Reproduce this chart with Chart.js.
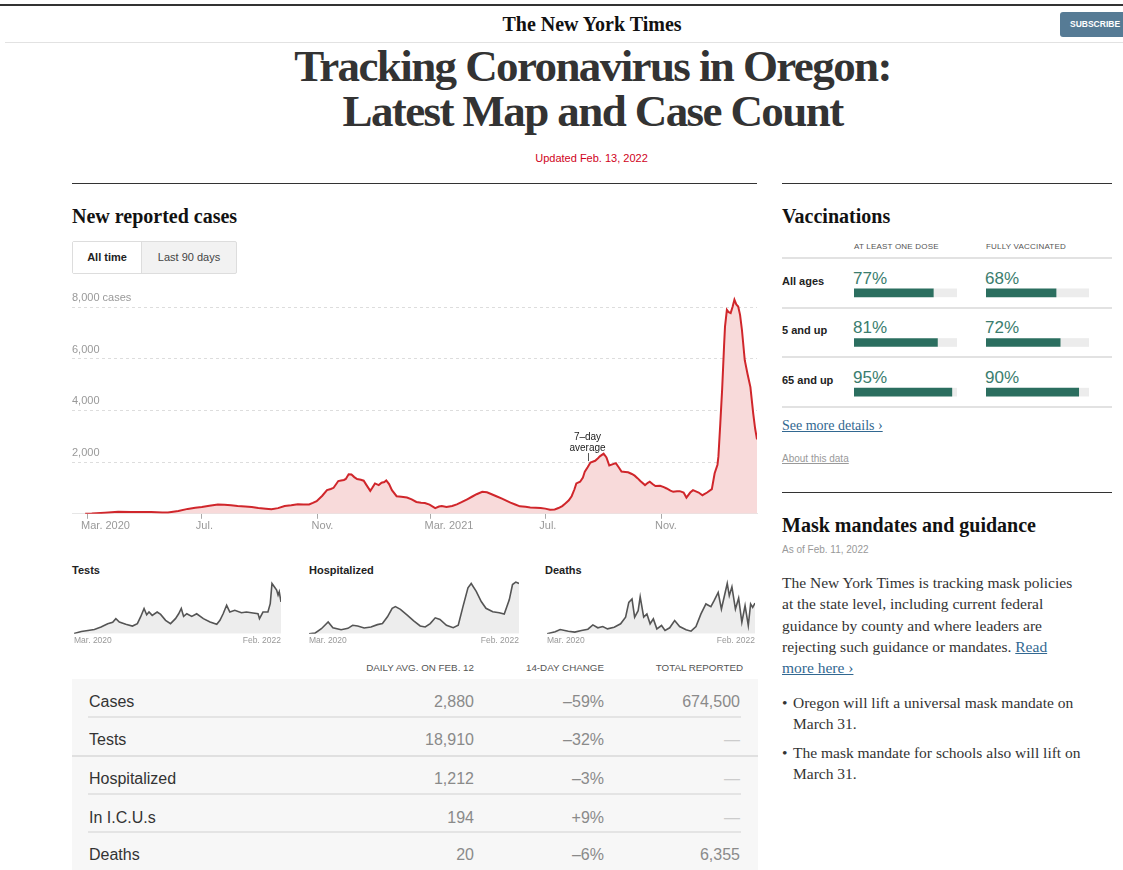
<!DOCTYPE html>
<html>
<head>
<meta charset="utf-8">
<script src="https://cdn.jsdelivr.net/npm/chart.js@4.4.0/dist/chart.umd.min.js"></script>
<style>
  body { margin: 0; width: 1123px; height: 870px; overflow: hidden; background: #fff; position: relative;
         font-family: "Liberation Sans", Arial, sans-serif; color: #333; }
  .a { position: absolute; white-space: nowrap; }
  .serif { font-family: "Liberation Serif", "DejaVu Serif", serif; }
  .rule { position: absolute; height: 1px; background: #333; }
  .thin { position: absolute; height: 1px; background: #ddd; }
  .hd { font-weight: bold; font-size: 20px; line-height: 24px; color: #121212; }
  .small-title { font-weight: bold; font-size: 11px; line-height: 14px; color: #222; }
  .th { font-size: 8px; line-height: 10px; color: #555; letter-spacing: 0.2px; }
  .th2 { font-size: 9.8px; line-height: 11px; color: #555; }
  .row-l { font-size: 16px; line-height: 20px; color: #333; }
  .row-v { font-size: 16px; line-height: 20px; color: #8a8a8a; text-align: right; }
  .dash { color: #ccc; }
  .vlab { font-weight: bold; font-size: 11px; line-height: 14px; color: #222; }
  .vpct { font-size: 17px; line-height: 18px; color: #3b7d6e; }
  .body { font-size: 15.5px; line-height: 21.3px; color: #333; }
  .link { color: #326891; text-decoration: underline; }
</style>
</head>
<body>

<div class="rule" style="left:0;top:4px;width:1123px;height:2px;background:#333"></div>
<div class="a serif" style="left:0;width:1184px;top:12px;text-align:center;font-size:20px;font-weight:bold;line-height:24px;color:#111">The New York Times</div>
<div class="a" style="left:1060px;top:12px;width:70px;height:25px;background:#567b95;border-radius:3px;color:#fff;font-size:8.5px;font-weight:bold;line-height:25px;padding-left:10px">SUBSCRIBE</div>
<div class="thin" style="left:5px;top:42px;width:1118px;background:#e2e2e2"></div>

<div class="a serif" style="left:0;width:1185px;top:44px;text-align:center;font-size:45px;font-weight:bold;line-height:45px;letter-spacing:-1.6px;color:#333">Tracking Coronavirus in Oregon:<br>Latest Map and Case Count</div>
<div class="a" style="left:0;width:1183px;top:151px;text-align:center;font-size:11px;line-height:14px;color:#d0021b">Updated Feb. 13, 2022</div>

<div class="rule" style="left:72px;top:183px;width:685px"></div>
<div class="rule" style="left:782px;top:183px;width:330px"></div>

<!-- left column -->
<div class="a serif hd" style="left:72px;top:204px">New reported cases</div>
<div class="a" style="left:72px;top:241px;width:163px;height:31px;border:1px solid #ddd;border-radius:2px;background:#f2f2f2"></div>
<div class="a" style="left:73px;top:242px;width:68px;height:31px;background:#fff;border-right:1px solid #ddd;font-size:11px;font-weight:bold;line-height:31px;text-align:center;color:#222">All time</div>
<div class="a" style="left:142px;top:242px;width:94px;height:31px;font-size:11px;line-height:31px;text-align:center;color:#444">Last 90 days</div>

<div class="a" style="left:72px;top:286px;width:690px;height:248px"><canvas id="cases"></canvas></div>

<div class="a small-title" style="left:72px;top:563px">Tests</div>
<div class="a small-title" style="left:309px;top:563px">Hospitalized</div>
<div class="a small-title" style="left:545px;top:563px">Deaths</div>
<div class="a" style="left:72px;top:576px;width:211px;height:72px"><canvas id="tests"></canvas></div>
<div class="a" style="left:307px;top:576px;width:214px;height:72px"><canvas id="hosp"></canvas></div>
<div class="a" style="left:545px;top:576px;width:212px;height:72px"><canvas id="deaths"></canvas></div>

<div class="a th2" style="right:649px;top:662px">DAILY AVG. ON FEB. 12</div>
<div class="a th2" style="right:519px;top:662px">14-DAY CHANGE</div>
<div class="a th2" style="right:380px;top:662px">TOTAL REPORTED</div>
<div class="a" style="left:72px;top:679px;width:686px;height:191px;background:#f7f7f7"></div>
<div id="tbl"></div>

<!-- right column -->
<div class="a serif hd" style="left:782px;top:204px">Vaccinations</div>
<div class="a th" style="left:854px;top:242px">AT LEAST ONE DOSE</div>
<div class="a th" style="left:986px;top:242px">FULLY VACCINATED</div>
<div id="vax"></div>
<div class="a" style="left:854px;top:268px;width:103px;height:149px"><canvas id="vaxOne"></canvas></div>
<div class="a" style="left:986px;top:268px;width:103px;height:149px"><canvas id="vaxFull"></canvas></div>
<div class="a serif link" style="left:782px;top:417px;font-size:14px;line-height:18px">See more details ›</div>
<div class="a" style="left:782px;top:452px;font-size:10px;line-height:13px;color:#999;text-decoration:underline">About this data</div>

<div class="rule" style="left:782px;top:492px;width:330px"></div>
<div class="a serif hd" style="left:782px;top:513px">Mask mandates and guidance</div>
<div class="a" style="left:782px;top:543px;font-size:10px;line-height:13px;color:#999">As of Feb. 11, 2022</div>
<div class="a serif body" style="left:782px;top:572px">The New York Times is tracking mask policies<br>at the state level, including current federal<br>guidance by county and where leaders are<br>rejecting such guidance or mandates. <span class="link">Read</span><br><span class="link">more here ›</span></div>
<div class="a serif body" style="left:782px;top:693px;line-height:20.5px">•</div>
<div class="a serif body" style="left:793px;top:693px;line-height:20.5px">Oregon will lift a universal mask mandate on<br>March 31.</div>
<div class="a serif body" style="left:782px;top:743px;line-height:20.5px">•</div>
<div class="a serif body" style="left:793px;top:743px;line-height:20.5px">The mask mandate for schools also will lift on<br>March 31.</div>

<script>
// 7-day average of new cases, days counted from Mar. 1, 2020
const caseDays = [
  -2, 5, 19, 33, 47, 60, 68, 80, 86, 97,
  107, 115, 122, 130, 139, 146, 153, 160, 168, 175,
  182, 190, 196, 203, 210, 217, 224, 230, 236, 240,
  244, 250, 255, 259, 262, 267, 270, 273, 275, 278,
  281, 284, 287, 291, 294, 297, 301, 303, 306, 310,
  313, 316, 318, 321, 324, 329, 334, 340, 345, 350,
  355, 359, 364, 370, 374, 377, 382, 388, 393, 398,
  404, 409, 414, 420, 425, 430, 435, 441, 446, 450,
  455, 460, 466, 471, 477, 482, 487, 492, 497, 501,
  505, 508, 512, 515, 518, 520, 524, 527, 529, 532,
  535, 540, 543, 545, 549, 552, 555, 559, 562, 565,
  568, 572, 575, 579, 582, 585, 588, 593, 596, 598,
  601, 604, 609, 613, 616, 620, 623, 627, 630, 634,
  637, 641, 644, 647, 650, 654, 656, 659, 664, 667,
  670, 671, 673, 675, 677, 678, 680, 682, 684, 686,
  688, 690, 692, 694, 696, 699, 702, 705, 708, 710,
  712
];
const caseAvg = [
  5, 10, 40, 75, 70, 65, 70, 55, 50, 110,
  190, 230, 260, 310, 360, 350, 330, 300, 285, 260,
  225, 200, 175, 220, 300, 330, 366, 360, 360, 420,
  490, 700, 915, 960, 1006, 1268, 1290, 1310, 1350, 1529,
  1520, 1420, 1346, 1320, 1281, 1111, 889, 1000, 1176, 1111,
  1202, 1230, 1294, 1150, 915, 680, 660, 627, 560, 457,
  430, 418, 353, 222, 280, 300, 261, 300, 366, 450,
  562, 660, 758, 850, 830, 758, 680, 588, 500, 431,
  360, 288, 270, 248, 235, 222, 200, 157, 170, 222,
  300, 392, 520, 680, 950, 1176, 1241, 1400, 1634, 1800,
  1987, 2052, 2150, 2222, 2326, 2183, 1869, 1921, 1961, 1800,
  1634, 1620, 1608, 1540, 1477, 1380, 1268, 1111, 1200, 1241,
  1150, 1072, 1085, 1030, 980, 900, 850, 870, 876, 823,
  627, 823, 915, 870, 823, 719, 760, 823, 954, 1568,
  1900, 2222, 3500, 4850, 6500, 7242, 7894, 7800, 7765, 8000,
  8283, 8100, 8022, 7700, 7113, 5943, 5400, 4901, 3875, 3300,
  2880
];
const monthDays = [0, 122, 245, 365, 487, 610];
const monthLabels = ['Mar. 2020', 'Jul.', 'Nov.', 'Mar. 2021', 'Jul.', 'Nov.'];
const caseTicks = [2000, 4000, 6000, 8000];
const caseTickLabels = ['2,000', '4,000', '6,000', '8,000 cases'];

const testDays = [0, 25, 48, 70, 93, 116, 133, 144, 156, 178, 201, 218, 229, 241, 250, 258, 269, 286, 298, 315,
  332, 349, 360, 369, 377, 388, 405, 422, 445, 468, 491, 502, 513, 525, 536, 553, 576, 593, 616, 633,
  638, 650, 667, 675, 681, 689, 697, 702, 706, 712];
const testAvg = [200, 1400, 2000, 2600, 4000, 6000, 6800, 9000, 7000, 5600, 4600, 6000, 10000, 15000, 11300, 12900, 10900, 12900, 11500, 8000,
  6000, 9000, 11900, 15000, 10300, 11900, 10300, 11900, 9000, 7000, 5600, 8000, 11900, 16900, 12900, 13900, 12500, 12900, 12300, 11900,
  9000, 12900, 12900, 17900, 29860, 27900, 25900, 22900, 24900, 18910];

const hospDays = [0, 20, 42, 65, 81, 109, 132, 148, 165, 187, 210, 232, 249, 266, 282, 293, 310, 333, 355, 377,
  394, 411, 428, 444, 466, 489, 506, 522, 539, 550, 567, 584, 600, 623, 645, 662, 679, 690, 701, 712];
const hospAvg = [0, 16, 123, 287, 147, 98, 131, 205, 188, 139, 164, 221, 246, 410, 614, 655, 590, 450, 311, 188,
  164, 246, 385, 344, 205, 147, 205, 655, 1106, 1212, 1024, 778, 614, 532, 508, 475, 819, 1188, 1245, 1212];

const deathDays = [0, 28, 45, 73, 95, 118, 140, 157, 174, 191, 207, 230, 252, 269, 280, 291, 300, 312, 319, 331,
  342, 353, 364, 376, 392, 404, 420, 437, 454, 476, 493, 510, 527, 544, 561, 572, 586, 597, 617, 624,
  633, 645, 656, 667, 678, 689, 697, 704, 712];
const deathAvg = [0, 1.3, 2.8, 1.7, 1.1, 2.1, 3, 5.8, 3.9, 4.7, 3.2, 4.3, 6.5, 10.8, 20.4, 22.6, 10.8, 15, 24, 10.8,
  12.9, 6.5, 9.7, 3.2, 5.4, 2.2, 3.9, 8.6, 4.7, 2.6, 1.7, 4.7, 12.9, 19.4, 17.6, 21.5, 26.9, 16.1, 32.7, 24.7,
  30.5, 16.1, 23.2, 7.5, 18.3, 5.4, 19.4, 17.2, 20];
const sparkEnds = [0, 712];
const sparkLabels = ['Mar. 2020', 'Feb. 2022'];

const tableRows = ['Cases', 'Tests', 'Hospitalized', 'In I.C.U.s', 'Deaths'];
const tableDaily = ['2,880', '18,910', '1,212', '194', '20'];
const tableChange = ['–59%', '–32%', '–3%', '+9%', '–6%'];
const tableTotal = ['674,500', null, null, null, '6,355'];

const vaxGroups = ['All ages', '5 and up', '65 and up'];
const vaxOneDose = [77, 81, 95];
const vaxFully = [68, 72, 90];

const sans = '"Liberation Sans", Arial, sans-serif';
const avgNote = { day: 532, value: 2350 };

const points = (days, vals) => days.map((d, i) => ({ x: d, y: vals[i] }));

// little "7-day average" marker on the main chart
const notePlugin = {
  id: 'note',
  afterDatasetsDraw(chart) {
    const { ctx, scales: { x, y } } = chart;
    const px = Math.round(x.getPixelForValue(avgNote.day)) + 0.5;
    const py = y.getPixelForValue(avgNote.value);
    ctx.save();
    ctx.strokeStyle = '#555';
    ctx.lineWidth = 1;
    ctx.beginPath();
    ctx.moveTo(px, py);
    ctx.lineTo(px, py + 8);
    ctx.stroke();
    ctx.font = '10px ' + sans;
    ctx.fillStyle = '#222';
    ctx.textAlign = 'center';
    ctx.textBaseline = 'middle';
    ctx.fillText('7–day', px - 1, py - 16);
    ctx.fillText('average', px - 1, py - 5);
    ctx.restore();
  }
};

new Chart(document.getElementById('cases'), {
  type: 'line',
  data: {
    datasets: [{
      data: points(caseDays, caseAvg),
      borderColor: '#d0262b',
      borderWidth: 2,
      backgroundColor: '#f8dada',
      fill: 'origin',
      pointRadius: 0,
      tension: 0
    }]
  },
  options: {
    responsive: true,
    maintainAspectRatio: false,
    animation: false,
    layout: { padding: { top: 5, right: 5 } },
    plugins: { legend: { display: false }, tooltip: { enabled: false } },
    scales: {
      x: {
        type: 'linear', min: -16, max: 712,
        afterBuildTicks: s => { s.ticks = monthDays.map(v => ({ value: v })); },
        ticks: {
          callback: v => monthLabels[monthDays.indexOf(v)],
          align: 'start', labelOffset: -6, padding: 1, maxRotation: 0, autoSkip: false,
          color: '#999', font: { size: 11, family: sans }
        },
        grid: { drawOnChartArea: false, tickLength: 5, tickColor: '#aaa' },
        border: { color: '#e6e6e6' }
      },
      y: {
        min: 0, max: 8560,
        afterBuildTicks: s => { s.ticks = caseTicks.map(v => ({ value: v })); },
        ticks: {
          callback: v => caseTickLabels[caseTicks.indexOf(v)],
          mirror: true, padding: 0, labelOffset: -9,
          color: '#999', font: { size: 11, family: sans }
        },
        grid: { color: '#ddd', drawTicks: false },
        border: { display: false, dash: [3, 3] }
      }
    }
  },
  plugins: [notePlugin]
});

function spark(id, days, vals, yMax) {
  new Chart(document.getElementById(id), {
    type: 'line',
    data: {
      datasets: [{
        data: points(days, vals),
        borderColor: '#555',
        borderWidth: 1.6,
        backgroundColor: '#ededed',
        fill: 'origin',
        pointRadius: 0,
        tension: 0
      }]
    },
    options: {
      responsive: true,
      maintainAspectRatio: false,
      animation: false,
      layout: { padding: { top: 3 } },
      plugins: { legend: { display: false }, tooltip: { enabled: false } },
      scales: {
        x: {
          type: 'linear', min: 0, max: 712,
          afterBuildTicks: s => { s.ticks = sparkEnds.map(v => ({ value: v })); },
          ticks: {
            callback: v => sparkLabels[sparkEnds.indexOf(v)],
            align: 'inner', padding: 2, maxRotation: 0, autoSkip: false,
            color: '#999', font: { size: 8.5, family: sans }
          },
          grid: { display: false, drawTicks: false },
          border: { display: false }
        },
        y: { display: false, min: 0, max: yMax }
      }
    }
  });
}
spark('tests', testDays, testAvg, 32500);
spark('hosp', hospDays, hospAvg, 1320);
spark('deaths', deathDays, deathAvg, 35.6);

// table of latest numbers
const rowTop = [692, 730, 769, 808, 845];
const sepTop = [716, 755, 793, 831];
let html = '';
tableRows.forEach((name, i) => {
  const t = rowTop[i];
  html += `<div class="a row-l" style="left:89px;top:${t}px">${name}</div>`;
  html += `<div class="a row-v" style="right:649px;top:${t}px">${tableDaily[i]}</div>`;
  html += `<div class="a row-v" style="right:519px;top:${t}px">${tableChange[i]}</div>`;
  html += tableTotal[i]
    ? `<div class="a row-v" style="right:383px;top:${t}px">${tableTotal[i]}</div>`
    : `<div class="a row-v dash" style="right:383px;top:${t}px">—</div>`;
});
sepTop.forEach((t, i) => {
  html += i === 1
    ? `<div class="thin" style="left:72px;top:${t}px;width:686px;height:2px;background:#e0e0e0"></div>`
    : `<div class="thin" style="left:88px;top:${t}px;width:653px;height:2px;background:#e4e4e4"></div>`;
});
document.getElementById('tbl').innerHTML = html;

// vaccination rows
const vaxRowMid = [281, 330, 380];
const vaxSep = [257, 307, 356, 406];
let vh = '';
vaxGroups.forEach((g, i) => {
  vh += `<div class="a vlab" style="left:782px;top:${vaxRowMid[i] - 7}px">${g}</div>`;
  vh += `<div class="a vpct" style="left:853px;top:${vaxRowMid[i] - 11}px">${vaxOneDose[i]}%</div>`;
  vh += `<div class="a vpct" style="left:985px;top:${vaxRowMid[i] - 11}px">${vaxFully[i]}%</div>`;
});
vaxSep.forEach(t => { vh += `<div class="thin" style="left:782px;top:${t}px;width:330px;height:2px;background:#e2e2e2"></div>`; });
document.getElementById('vax').innerHTML = vh;

function vaxBars(id, vals) {
  new Chart(document.getElementById(id), {
    type: 'bar',
    data: {
      labels: vaxGroups,
      datasets: [
        { data: vals, backgroundColor: '#2b6e5f', barThickness: 8 },
        { data: vals.map(v => 100 - v), backgroundColor: '#ececec', barThickness: 8 }
      ]
    },
    options: {
      indexAxis: 'y',
      responsive: true,
      maintainAspectRatio: false,
      animation: false,
      plugins: { legend: { display: false }, tooltip: { enabled: false } },
      scales: {
        x: { display: false, stacked: true, min: 0, max: 100 },
        y: { display: false, stacked: true, offset: true }
      }
    }
  });
}
vaxBars('vaxOne', vaxOneDose);
vaxBars('vaxFull', vaxFully);
</script>
</body>
</html>
